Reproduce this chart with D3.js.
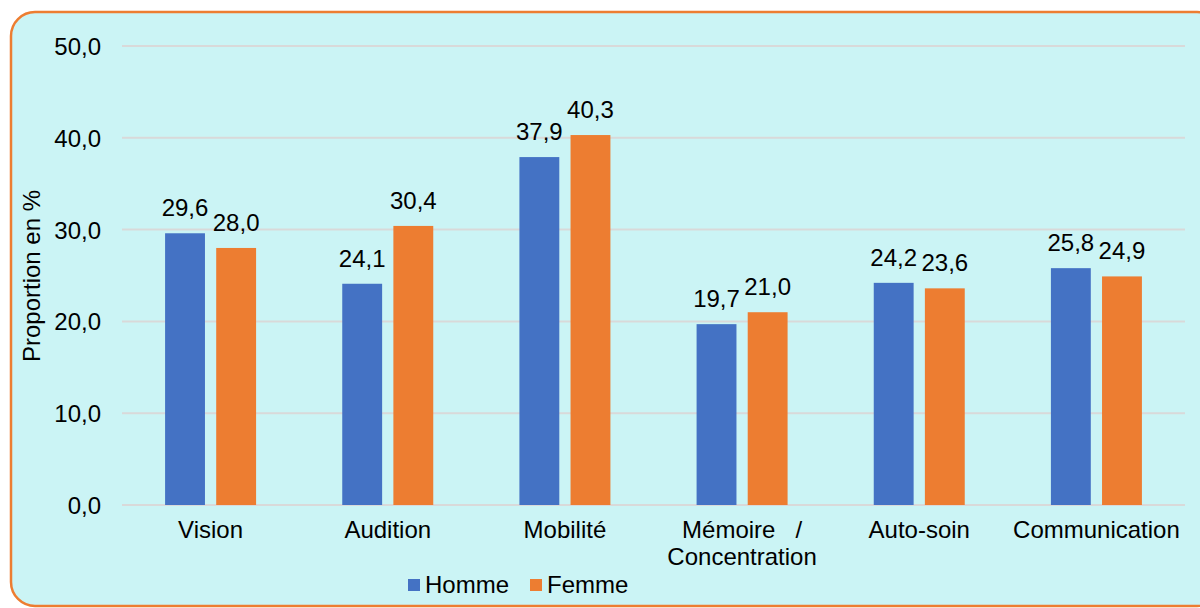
<!DOCTYPE html>
<html><head><meta charset="utf-8">
<script src="https://cdn.jsdelivr.net/npm/d3@7"></script>
<style>html,body{margin:0;padding:0;background:#fff;overflow:hidden}</style>
</head><body>
<script>
const categories = ["Vision","Audition","Mobilité","Mémoire / Concentration","Auto-soin","Communication"];
const categoryLines = [["Vision"],["Audition"],["Mobilité"],["Mémoire   /","Concentration"],["Auto-soin"],["Communication"]];
const seriesNames = ["Homme","Femme"];
const homme = [29.6,24.1,37.9,19.7,24.2,25.8];
const femme = [28.0,30.4,40.3,21.0,23.6,24.9];
const yTicks = [0,10,20,30,40,50];
const colors = ["#4472C4","#ED7D31"];

const W=1200,H=608;
const svg=d3.select("body").append("svg").attr("width",W).attr("height",H);
const font="'Liberation Sans', Arial, sans-serif";
const fs=24;

// cut-off title fragment
svg.append("text").attr("x",236).attr("y",-14).attr("font-family",font).attr("font-size",24)
  .attr("font-weight","bold").attr("fill","#1AA1C0").text("p");

svg.append("rect").attr("x",11).attr("y",12).attr("width",1210).attr("height",594)
  .attr("rx",24).attr("ry",24).attr("fill","#CBF4F5").attr("stroke","#ED7D31").attr("stroke-width",2.5);

const x=d3.scaleBand().domain(categories).range([122,1185]);
const y=d3.scaleLinear().domain([0,50]).range([505,46]);
const x1=d3.scaleBand().domain(seriesNames).range([0,91]).paddingInner(0.22);

const fmt=v=>d3.format(".1f")(v).replace(".",",");

// gridlines
svg.append("g").selectAll("line").data(yTicks).join("line")
  .attr("x1",122).attr("x2",1185).attr("y1",d=>y(d)).attr("y2",d=>y(d))
  .attr("stroke","#D9D9D9").attr("stroke-width",2);

// y tick labels
const yAxis=d3.axisLeft(y).tickValues(yTicks).tickFormat(fmt).tickSize(0).tickPadding(0);
const ga=svg.append("g").attr("transform","translate(101,0)").call(yAxis);
ga.select(".domain").remove();
ga.selectAll("text").attr("font-family",font).attr("font-size",fs).attr("fill","#000").attr("dy","0.35em");

svg.append("text").attr("transform","translate(40,276) rotate(-90)").attr("text-anchor","middle")
  .attr("font-family",font).attr("font-size",fs).attr("fill","#000").text("Proportion en %");

const data=categories.map((c,i)=>({c,vals:[{s:"Homme",v:homme[i]},{s:"Femme",v:femme[i]}]}));
const g=svg.append("g").selectAll("g").data(data).join("g")
  .attr("transform",d=>`translate(${x(d.c)+x.bandwidth()/2-45.5},0)`);
g.selectAll("rect").data(d=>d.vals).join("rect")
  .attr("x",d=>x1(d.s)).attr("width",x1.bandwidth())
  .attr("y",d=>y(d.v)).attr("height",d=>y(0)-y(d.v))
  .attr("fill",(d,i)=>colors[i]);
g.selectAll("text.v").data(d=>d.vals).join("text").attr("class","v")
  .attr("x",d=>x1(d.s)+x1.bandwidth()/2).attr("y",d=>y(d.v)-17)
  .attr("text-anchor","middle").attr("font-family",font).attr("font-size",fs).attr("fill","#000")
  .text(d=>fmt(d.v));

// category labels
categories.forEach((c,i)=>{
  const t=svg.append("text").attr("x",x(c)+x.bandwidth()/2).attr("y",538).attr("text-anchor","middle")
    .attr("font-family",font).attr("font-size",fs).attr("fill","#000");
  categoryLines[i].forEach((l,j)=>t.append("tspan").attr("x",x(c)+x.bandwidth()/2).attr("dy",j?27:0)
    .attr("xml:space","preserve").style("white-space","pre").text(l));
});

// legend
const leg=[{n:"Homme",x:408},{n:"Femme",x:530}];
leg.forEach((l,i)=>{
  svg.append("rect").attr("x",l.x).attr("y",579).attr("width",12).attr("height",12).attr("fill",colors[i]);
  svg.append("text").attr("x",l.x+17).attr("y",593).attr("font-family",font).attr("font-size",fs)
    .attr("fill","#000").text(seriesNames[i]);
});
</script>
</body></html>
